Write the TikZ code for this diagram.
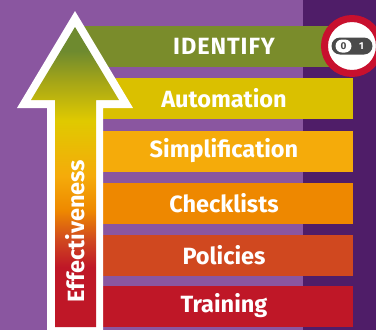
\documentclass[tikz,border=0pt]{standalone}
\usepackage{fontspec}
\setmainfont{Fira Sans}
\usetikzlibrary{positioning}
\usetikzlibrary{calc}
\definecolor{lilac}{HTML}{8A56A0}
\definecolor{plum}{HTML}{4F1D68}
\definecolor{olive}{HTML}{7A8C2B}
\definecolor{leaf}{HTML}{6E8A2F}
\definecolor{mustard}{HTML}{DAC000}
\definecolor{amber}{HTML}{F5AB0A}
\definecolor{tangerine}{HTML}{EE8800}
\definecolor{rust}{HTML}{D0481F}
\definecolor{crimson}{HTML}{BF1727}
\definecolor{ringred}{HTML}{C8102E}
\definecolor{switchgray}{HTML}{4A4A4A}

% bottom to top: red -> orange -> yellow -> green
\pgfdeclareverticalshading{effect}{100bp}{
    color(0bp)=(crimson); color(25bp)=(crimson); color(35bp)=(crimson);
    color(39.5bp)=(rust); color(44.4bp)=(tangerine); color(50.2bp)=(amber);
    color(59.4bp)=(mustard!85!yellow); color(66bp)=(leaf!50!mustard);
    color(71bp)=(leaf); color(75bp)=(leaf); color(100bp)=(leaf)}

\begin{document}
\begin{tikzpicture}[
    x=1pt, y=-1pt,
    bar/.style={rectangle, inner sep=0pt, minimum height=41pt,
        font=\fontsize{23.5}{25}\selectfont\bfseries, text=white},
    >=latex
]
    \clip (0,0) rectangle (376,330);

    % --- Background ---
    \fill[lilac] (0,0) rectangle (303,330);
    \fill[plum] (303,0) rectangle (376,330);

    % --- Bars ---
    \node[bar, fill=olive, minimum width=288pt,
        font=\fontsize{23.5}{25}\selectfont\bfseries\addfontfeatures{LetterSpace=4}]
        (identify) at (224,46) {IDENTIFY};
    \foreach \y/\col/\txt/\name in {98.5/mustard/Automation/automation,
            151/amber/Simplification/simplification,
            203/tangerine/Checklists/checklists,
            255/rust/Policies/policies,
            306/crimson/Training/training} {
        \node[bar, fill=\col, minimum width=258pt] (\name) at (224,\y) {\txt};
    }

    % --- Arrow ---
    \fill[white] (75,11) -- (133,108) -- (103,108) -- (103,332)
        -- (47,332) -- (47,108) -- (17,108) -- cycle;
    \shade[shading=effect] (75,27) -- (119,100) -- (96,100) -- (96,327)
        -- (55,327) -- (55,100) -- (31,100) -- cycle;
    \node[rotate=90, text=white, font=\fontsize{23.5}{25}\selectfont\bfseries]
        (effect) at (75.5,231) {Effectiveness};

    % --- Switch ---
    \node[circle, draw=ringred, line width=7pt, fill=white, inner sep=0pt,
        minimum size=55pt] (ring) at (352,46) {};
    \node[rectangle, rounded corners=8.5pt, fill=switchgray, inner sep=0pt,
        minimum width=41pt, minimum height=17pt] (switch) at (ring.center) {};
    \node[rectangle, rounded corners=6.5pt, fill=white, inner sep=0pt,
        minimum width=16pt, minimum height=13pt, text=switchgray,
        font=\fontsize{10}{10}\selectfont\bfseries] (off) at (343.5,46) {0};
    \node[text=white, inner sep=0pt, font=\fontsize{10}{10}\selectfont\bfseries]
        (on) at (361.5,46) {1};
\end{tikzpicture}
\end{document}
